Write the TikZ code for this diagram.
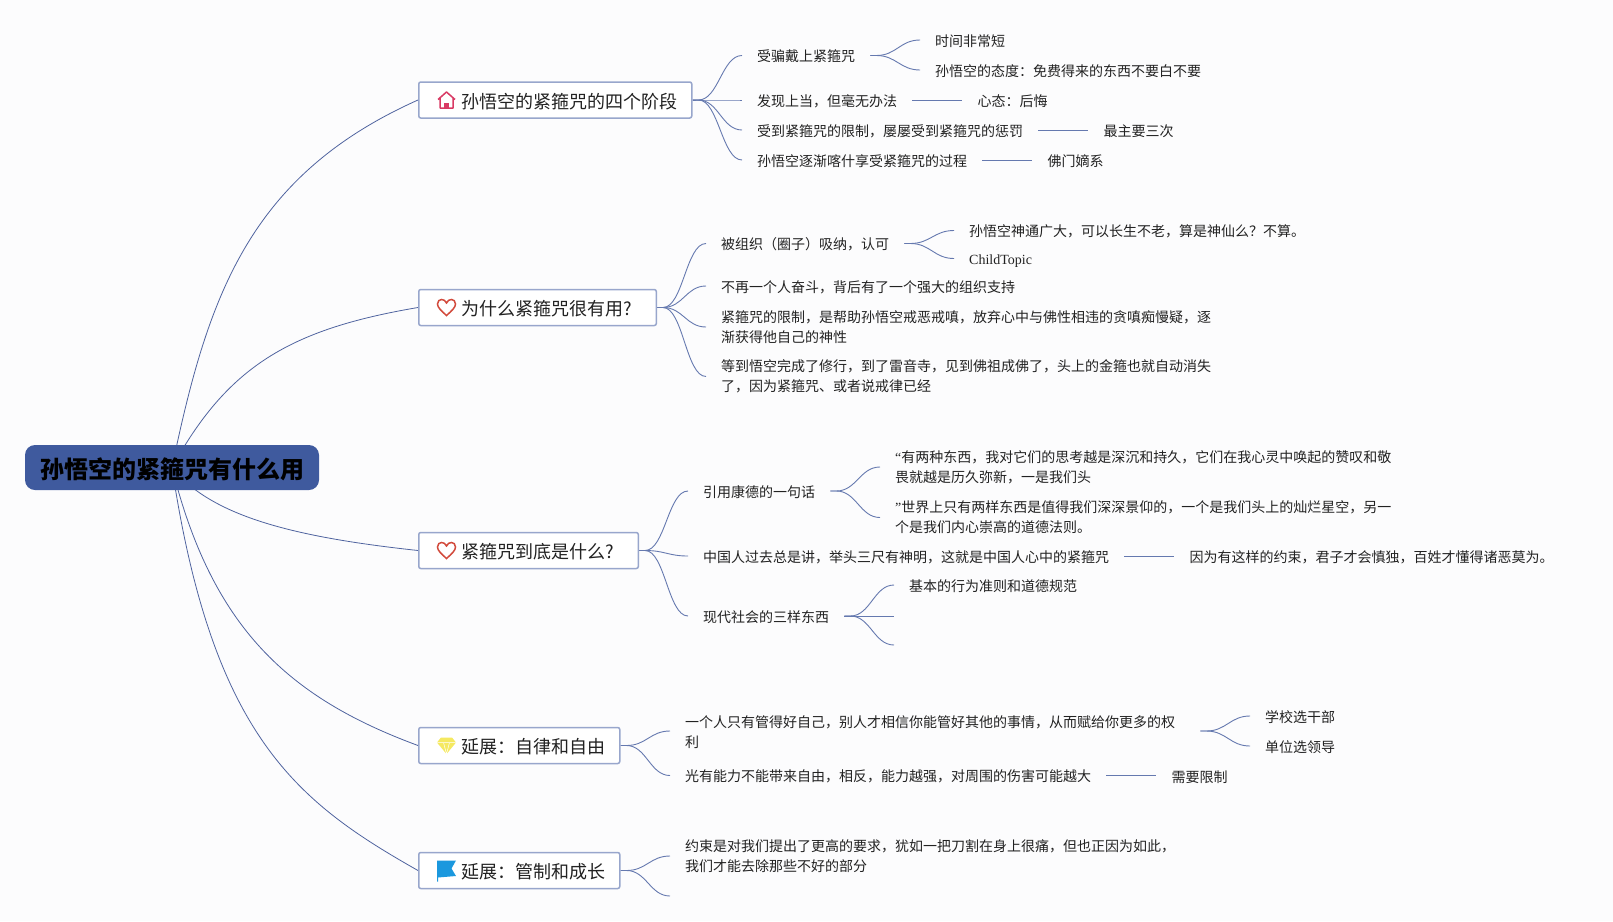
\documentclass[tikz,border=0pt]{standalone}
\usepackage{fontspec}
\setmainfont{Noto Sans CJK SC}
\newfontfamily\serifpart{Liberation Serif}
\usetikzlibrary{positioning}
\usetikzlibrary{backgrounds}

\definecolor{pagetint}{HTML}{FCFCFD}
\definecolor{rootblue}{HTML}{3F5A9E}
\definecolor{limbblue}{HTML}{4F639F}
\definecolor{twigblue}{HTML}{6579AF}
\definecolor{boxedge}{HTML}{98A6CC}
\definecolor{inktext}{HTML}{222222}
\definecolor{housepink}{HTML}{D93A64}
\definecolor{heartred}{HTML}{D24A3C}
\definecolor{gemyellow}{HTML}{F5E960}
\definecolor{flagblue}{HTML}{1B98DE}

\begin{document}
\begin{tikzpicture}
[
	x								= 1pt,
	y								= -1pt,
	rootbox/.style					=
	{
		fill						= rootblue,
		rounded corners				= 10pt,
		minimum height				= 45pt,
		inner xsep					= 15pt,
		font						= \fontsize{24}{28}\selectfont\bfseries,
		execute at begin node		= {\rule{0pt}{25pt}},
	},
	topic/.style					=
	{
		draw						= boxedge,
		fill						= white,
		line width					= 1.5pt,
		rounded corners				= 2pt,
		anchor						= west,
		minimum height				= 36pt,
		inner xsep					= 14pt,
		text						= inktext,
		font						= \fontsize{18}{22}\selectfont,
		execute at begin node		= {\rule{0pt}{18pt}\hspace*{29pt}},
	},
	leaf/.style						=
	{
		anchor						= west,
		align						= left,
		inner xsep					= 15pt,
		inner ysep					= 1pt,
		text						= inktext,
		font						= \fontsize{14}{20}\selectfont,
		execute at begin node		= {\rule{0pt}{14.2pt}},
	},
	limb/.style						= {draw = limbblue, line width = 0.8pt},
	twig/.style						=
	{
		draw						= twigblue,
		line width					= 0.9pt,
		to path						= {-- ++(6,0) .. controls +(20,0) and +(-20,0) .. (\tikztotarget)},
	},
	houseicon/.pic					=
	{
		\draw [line width = 1.5pt, draw = housepink, line join = round]
			(-8.5,-0.5) -- (0,-8) -- (8.5,-0.5) (-6.5,-2) -- (-6.5,8) -- (6.5,8) -- (6.5,-2);
		\fill [housepink] (-2.5,8) -- (-2.5,3) -- (2.5,3) -- (2.5,8) -- cycle;
	},
	hearticon/.pic					=
	{
		\draw [line width = 1.5pt, draw = heartred]
			(0,8) .. controls (-5,3.5) and (-9,0) .. (-9,-3.5)
			.. controls (-9,-6.5) and (-7,-8) .. (-5,-8)
			.. controls (-3,-8) and (-1,-7) .. (0,-4.5)
			.. controls (1,-7) and (3,-8) .. (5,-8)
			.. controls (7,-8) and (9,-6.5) .. (9,-3.5)
			.. controls (9,0) and (5,3.5) .. (0,8) -- cycle;
	},
	gemicon/.pic					=
	{
		\fill [gemyellow] (-5.5,-8) -- (5.5,-8) -- (9.5,-3) -- (0,8.5) -- (-9.5,-3) -- cycle;
		\draw [white, line width = 0.5pt] (-9.5,-3) -- (9.5,-3) (-3,-3) -- (0,8.5) -- (3,-3);
	},
	flagicon/.pic					=
	{
		\fill [flagblue] (-9.5,-10) -- (9.5,-10) -- (5,-2) -- (9.5,5.5) -- (-8.5,7) -- (-8.5,11) -- (-9.5,11) -- cycle;
	},
]
	\useasboundingbox (0,0) rectangle (1613,921);

	\node [rootbox] (root) at (172,467.5) {孙悟空的紧箍咒有什么用};

	\node [topic] (b1) at (418,100) {孙悟空的紧箍咒的四个阶段};
	\node [topic] (b2) at (418,307.5) {为什么紧箍咒很有用?\hspace*{10pt}};
	\node [topic] (b3) at (418,550.5) {紧箍咒到底是什么?\hspace*{10pt}};
	\node [topic] (b4) at (418,745.5) {延展：自律和自由};
	\node [topic] (b5) at (418,870.5) {延展：管制和成长};

	\pic at ([xshift = 28.5pt]b1.west) {houseicon};
	\pic at ([xshift = 28.5pt]b2.west) {hearticon};
	\pic at ([xshift = 28.5pt]b3.west) {hearticon};
	\pic at ([xshift = 28.5pt]b4.west) {gemicon};
	\pic at ([xshift = 28.5pt]b5.west) {flagicon};

	% first branch
	\node [leaf] (a1) at (742,55.5) {受骗戴上紧箍咒};
	\node [leaf] (a2) at (742,100) {发现上当，但毫无办法};
	\node [leaf] (a3) at (742,130) {受到紧箍咒的限制，屡屡受到紧箍咒的惩罚};
	\node [leaf] (a4) at (742,160) {孙悟空逐渐喀什享受紧箍咒的过程};
	\node [leaf] (a11) at (920,40) {时间非常短};
	\node [leaf] (a12) at (920,70) {孙悟空的态度：免费得来的东西不要白不要};
	\node [leaf, right = 50pt of a2] (a21) {心态：后悔};
	\node [leaf, right = 50pt of a3] (a31) {最主要三次};
	\node [leaf, right = 50pt of a4] (a41) {佛门嫡系};

	% second branch
	\node [leaf] (w1) at (706,243.5) {被组织（圈子）吸纳，认可};
	\node [leaf] (w2) at (706,286) {不再一个人奋斗，背后有了一个强大的组织支持};
	\node [leaf] (w3) at (706,327)
		{紧箍咒的限制，是帮助孙悟空戒恶戒嗔，放弃心中与佛性相违的贪嗔痴慢疑，逐\\渐获得他自己的神性};
	\node [leaf] (w4) at (706,376.5)
		{等到悟空完成了修行，到了雷音寺，见到佛祖成佛了，头上的金箍也就自动消失\\了，因为紧箍咒、或者说戒律已经};
	\node [leaf] (w11) at (954,230.5) {孙悟空神通广大，可以长生不老，算是神仙么？不算。};
	\node [leaf] (w12) at (954,258.5) {\serifpart ChildTopic};

	% third branch
	\node [leaf] (t1) at (688,491) {引用康德的一句话};
	\node [leaf] (t2) at (688,556) {中国人过去总是讲，举头三尺有神明，这就是中国人心中的紧箍咒};
	\node [leaf] (t3) at (688,616) {现代社会的三样东西};
	\node [leaf] (t11) at (880,467)
		{{\serifpart “}有两种东西，我对它们的思考越是深沉和持久，它们在我心灵中唤起的赞叹和敬\\畏就越是历久弥新，一是我们头};
	\node [leaf] (t12) at (880,517.5)
		{{\serifpart ”}世界上只有两样东西是值得我们深深景仰的，一个是我们头上的灿烂星空，另一\\个是我们内心崇高的道德法则。};
	\node [leaf, right = 50pt of t2] (t21) {因为有这样的约束，君子才会慎独，百姓才懂得诸恶莫为。};
	\node [leaf] (t31) at (894,585) {基本的行为准则和道德规范};
	\coordinate (t32) at (894,616);
	\coordinate (t33) at (894,645);

	% fourth and fifth branch
	\node [leaf, text width = 500pt] (f1) at (670,731)
		{一个人只有管得好自己，别人才相信你能管好其他的事情，从而赋给你更多的权\\利};
	\node [leaf] (f2) at (670,775.5) {光有能力不能带来自由，相反，能力越强，对周围的伤害可能越大};
	\node [leaf] (f11) at (1250,716) {学校选干部};
	\node [leaf] (f12) at (1250,746) {单位选领导};
	\node [leaf, right = 50pt of f2] (f21) {需要限制};
	\node [leaf] (g1) at (670,856)
		{约束是对我们提出了更高的要求，犹如一把刀割在身上很痛，但也正因为如此，\\我们才能去除那些不好的部分};
	\coordinate (g2) at (670,896);

	\begin{pgfonlayer}{background}
		\fill [pagetint] (0,0) rectangle (1613,921);
		\draw [limb] (root.center) .. controls +(35.5,-170) and +(-170,76) .. (b1.west);
		\draw [limb] (root.center) .. controls +(55,-100) and +(-130,22) .. (b2.west);
		\draw [limb] (root.center) .. controls +(40,50) and +(-120,-13) .. (b3.west);
		\draw [limb] (root.center) .. controls +(40,160) and +(-130,-48) .. (b4.west);
		\draw [limb] (root.center) .. controls +(40.5,270) and +(-120,-68) .. (b5.west);

		\foreach \kid in {a1.west,a2.west,a3.west,a4.west}
			\draw [twig] (b1.east) to (\kid);
		\foreach \kid in {w1.west,w2.west,w3.west,w4.west}
			\draw [twig] (b2.east) to (\kid);
		\foreach \kid in {t1.west,t2.west,t3.west}
			\draw [twig] (b3.east) to (\kid);
		\foreach \kid in {f1.west,f2.west}
			\draw [twig] (b4.east) to (\kid);
		\foreach \kid in {g1.west,g2}
			\draw [twig] (b5.east) to (\kid);

		\foreach \kid in {a11.west,a12.west}
			\draw [twig] (a1.east) to (\kid);
		\foreach \kid in {w11.west,w12.west}
			\draw [twig] (w1.east) to (\kid);
		\foreach \kid in {t11.west,t12.west}
			\draw [twig] (t1.east) to (\kid);
		\foreach \kid in {t31.west,t32,t33}
			\draw [twig] (t3.east) to (\kid);
		\foreach \kid in {f11.west,f12.west}
			\draw [twig] (f1.east) to (\kid);

		\draw [twig] (a2.east) -- (a21.west);
		\draw [twig] (a3.east) -- (a31.west);
		\draw [twig] (a4.east) -- (a41.west);
		\draw [twig] (t2.east) -- (t21.west);
		\draw [twig] (f2.east) -- (f21.west);
	\end{pgfonlayer}
\end{tikzpicture}
\end{document}
